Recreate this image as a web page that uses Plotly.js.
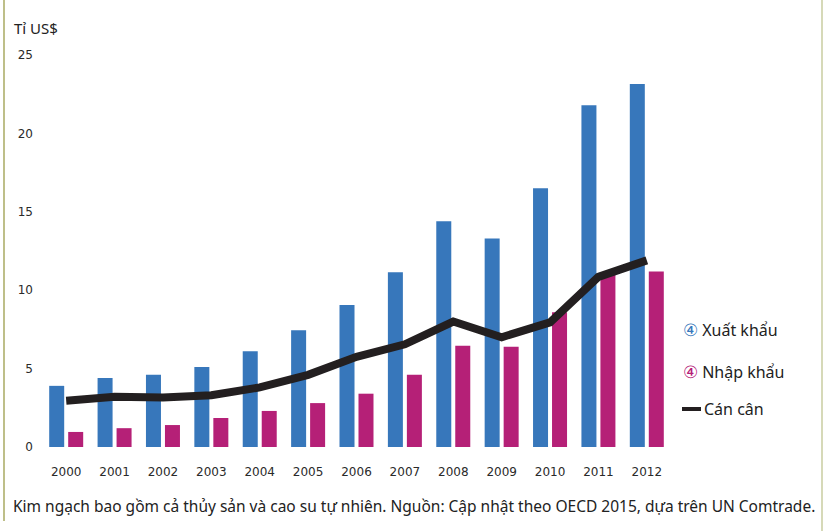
<!DOCTYPE html>
<html>
<head>
<meta charset="utf-8">
<script src="https://cdn.plot.ly/plotly-3.0.1.min.js"></script>
<style>
html,body{margin:0;padding:0;background:#fff;}
#chart{width:823px;height:531px;}
</style>
</head>
<body>
<div id="chart"></div>
<script>
var years = ['2000','2001','2002','2003','2004','2005','2006','2007','2008','2009','2010','2011','2012'];
var exportsVal = [3.9, 4.4, 4.6, 5.1, 6.1, 7.45, 9.05, 11.15, 14.4, 13.3, 16.5, 21.8, 23.15];
var importsVal = [0.96, 1.2, 1.4, 1.85, 2.3, 2.8, 3.4, 4.6, 6.45, 6.4, 8.6, 11.0, 11.2];
var balanceVal = [2.95, 3.2, 3.15, 3.3, 3.8, 4.6, 5.75, 6.55, 8.0, 7.0, 7.95, 10.85, 11.9];
var yTicks = [0, 5, 10, 15, 20, 25];
var seriesNames = ['Xuất khẩu', 'Nhập khẩu', 'Cán cân'];
var unitLabel = 'Tỉ US$';
var caption = 'Kim ngạch bao gồm cả thủy sản và cao su tự nhiên. Nguồn: Cập nhật theo OECD 2015, dựa trên UN Comtrade.';

var BLUE = '#3777bb', PINK = '#b52077', DARK = '#231f20';
var txtFont = 'Noto Sans, Open Sans, sans-serif';

// plot area in px: left 42, right 671, top 55, bottom 447
var L = 42, R = 671, T = 55, B = 447, W = 823, H = 531;
function px(x){ return (x - L) / (R - L); }
function py(y){ return (B - y) / (B - T); }

var traces = [
  {type:'bar', x:years, y:exportsVal, name:seriesNames[0], marker:{color:BLUE}, showlegend:false, hoverinfo:'skip'},
  {type:'bar', x:years, y:importsVal, name:seriesNames[1], marker:{color:PINK}, showlegend:false, hoverinfo:'skip'},
  {type:'scatter', mode:'lines', x:years, y:balanceVal, name:seriesNames[2], line:{color:DARK, width:8}, showlegend:false, hoverinfo:'skip'}
];

var layout = {
  width: W, height: H,
  margin: {l: L, r: W - R, t: T, b: H - B, pad: 0},
  paper_bgcolor: '#fff', plot_bgcolor: '#fff',
  barmode: 'group', bargap: 0.215, bargroupgap: 0.21,
  showlegend: false,
  xaxis: {type:'category', showgrid:false, zeroline:false, showline:false, ticks:'',
          tickfont:{family:'DejaVu Sans', size:12, color:'#2a2a2a'}, ticklabelstandoff: 16},
  yaxis: {range:[0, 25], tickvals: yTicks, showgrid:false, zeroline:false, showline:false, ticks:'',
          tickfont:{family:'DejaVu Sans', size:12, color:'#2a2a2a'}, ticklabelstandoff: 8},
  annotations: [
    {xref:'paper', yref:'paper', x:px(12), y:py(28), xanchor:'left', yanchor:'middle', showarrow:false,
     text:unitLabel, font:{family:txtFont, size:15, color:'#222'}},
    {xref:'paper', yref:'paper', x:px(11), y:py(506), xanchor:'left', yanchor:'middle', showarrow:false,
     text:caption, font:{family:txtFont, size:15.5, color:'#222'}},
    {xref:'paper', yref:'paper', x:px(681), y:py(329), xanchor:'left', yanchor:'middle', showarrow:false,
     text:'<span style="color:'+BLUE+';font-size:17px">④</span> '+seriesNames[0], font:{family:txtFont, size:16, color:'#222'}},
    {xref:'paper', yref:'paper', x:px(681), y:py(371), xanchor:'left', yanchor:'middle', showarrow:false,
     text:'<span style="color:'+PINK+';font-size:17px">④</span> '+seriesNames[1], font:{family:txtFont, size:16, color:'#222'}},
    {xref:'paper', yref:'paper', x:px(702), y:py(409), xanchor:'left', yanchor:'middle', showarrow:false,
     text:seriesNames[2], font:{family:txtFont, size:16, color:'#222'}}
  ],
  shapes: [
    {type:'line', xref:'paper', yref:'paper', x0:px(682), x1:px(701), y0:py(409), y1:py(409), line:{color:DARK, width:4}},
    {type:'line', xref:'paper', yref:'paper', x0:px(4), x1:px(4), y0:py(0), y1:py(521), line:{color:'#a9aa62', width:1.5}},
    {type:'line', xref:'paper', yref:'paper', x0:px(822), x1:px(822), y0:py(0), y1:py(531), line:{color:'#c9cca0', width:1.5}}
  ]
};

Plotly.newPlot('chart', traces, layout, {displayModeBar:false, staticPlot:true});
</script>
</body>
</html>
